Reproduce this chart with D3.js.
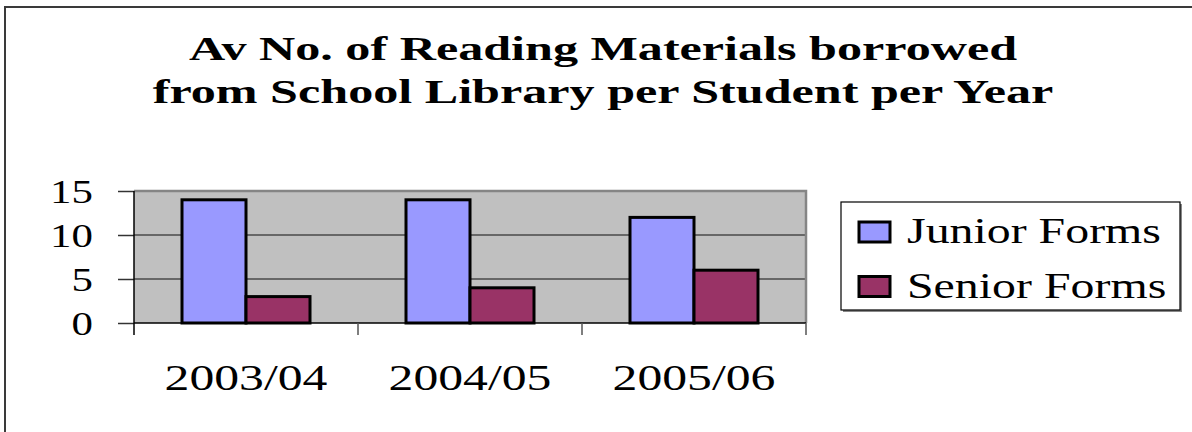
<!DOCTYPE html>
<html>
<head>
<meta charset="utf-8">
<script src="https://cdnjs.cloudflare.com/ajax/libs/d3/7.8.5/d3.min.js"></script>
<style>
  html, body { margin: 0; padding: 0; background: #fff; }
  svg { display: block; font-family: "Liberation Serif", "Times New Roman", serif; }
</style>
</head>
<body>
<div id="chart"></div>
<script>
// chart data
var categories = ['2003/04', '2004/05', '2005/06'];
var seriesNames = ['Junior Forms', 'Senior Forms'];
var juniorValues = [14, 14, 12];
var seniorValues = [3, 4, 6];
var yTicks = [0, 5, 10, 15];
var titleLines = ['Av No. of Reading Materials borrowed', 'from School Library per Student per Year'];

var seriesColors = ['#9999ff', '#993366'];

var width = 1192, height = 432;
// plot area (inside the axes)
var plot = { left: 134, right: 806, top: 191, bottom: 323 };

// the original picture is stretched sideways, so the text is too
var stretchTitle = 1.52, stretchX = 1.38, stretchY = 1.3, stretchLegend = 1.33;

var svg = d3.select('#chart').append('svg')
    .attr('width', width)
    .attr('height', height);

// outer chart border (runs off the right and bottom edge)
svg.append('rect')
    .attr('x', 5).attr('y', 7)
    .attr('width', width + 20).attr('height', height + 20)
    .attr('fill', '#fff')
    .attr('stroke', '#3a3a3a')
    .attr('stroke-width', 2);

// title
svg.append('g').selectAll('text')
    .data(titleLines)
    .enter()
    .append('text')
    .attr('transform', function (d, i) { return 'translate(603,' + (60 + i * 43) + ') scale(' + stretchTitle + ',1)'; })
    .attr('text-anchor', 'middle')
    .attr('font-weight', 'bold')
    .attr('font-size', 33)
    .attr('fill', '#000')
    .text(function (d) { return d; });

var x0 = d3.scaleBand()
    .domain(categories)
    .range([plot.left, plot.right]);

var x1 = d3.scaleBand()
    .domain(seriesNames)
    .range([0, x0.bandwidth()])
    .paddingOuter(0.75);

var y = d3.scaleLinear()
    .domain([0, 15])
    .range([plot.bottom, plot.top]);

// plot background
svg.append('rect')
    .attr('x', plot.left).attr('y', plot.top)
    .attr('width', plot.right - plot.left)
    .attr('height', plot.bottom - plot.top)
    .attr('fill', '#c0c0c0');

// gridlines
svg.append('g').selectAll('line')
    .data(yTicks.filter(function (d) { return d > 0 && d < 15; }))
    .enter()
    .append('line')
    .attr('x1', plot.left).attr('x2', plot.right)
    .attr('y1', function (d) { return y(d); })
    .attr('y2', function (d) { return y(d); })
    .attr('stroke', '#4a4a4a')
    .attr('stroke-width', 1.5);

// plot border top and right (gray)
svg.append('path')
    .attr('d', 'M' + plot.left + ',' + y(15) + 'H' + plot.right + 'V' + plot.bottom)
    .attr('fill', 'none')
    .attr('stroke', '#858585')
    .attr('stroke-width', 2.5);

// bars
var rows = categories.map(function (c, i) {
    return { cat: c, values: [juniorValues[i], seniorValues[i]] };
});

svg.append('g').selectAll('g')
    .data(rows)
    .enter()
    .append('g')
    .attr('transform', function (d) { return 'translate(' + x0(d.cat) + ',0)'; })
    .selectAll('rect')
    .data(function (d) { return d.values.map(function (v, j) { return { name: seriesNames[j], value: v, j: j }; }); })
    .enter()
    .append('rect')
    .attr('x', function (d) { return x1(d.name); })
    .attr('width', x1.bandwidth())
    .attr('y', function (d) { return y(d.value); })
    .attr('height', function (d) { return y(0) - y(d.value); })
    .attr('fill', function (d) { return seriesColors[d.j]; })
    .attr('stroke', '#000')
    .attr('stroke-width', 3);

// y axis
var yAxis = svg.append('g')
    .attr('transform', 'translate(' + plot.left + ',0)')
    .call(d3.axisLeft(y).tickValues(yTicks).tickSize(16).tickSizeOuter(0));
yAxis.select('.domain').remove();
yAxis.selectAll('.tick line').attr('stroke', '#333').attr('stroke-width', 1.5);
yAxis.selectAll('.tick text')
    .attr('x', 0).attr('dy', '0.34em')
    .attr('transform', 'translate(-41,0) scale(' + stretchY + ',1)')
    .attr('font-size', 33)
    .attr('font-family', 'Liberation Serif, Times New Roman, serif')
    .attr('fill', '#000');

// axis lines
svg.append('line')
    .attr('x1', plot.left).attr('x2', plot.left)
    .attr('y1', plot.top).attr('y2', plot.bottom + 12)
    .attr('stroke', '#000').attr('stroke-width', 1.5);
svg.append('line')
    .attr('x1', plot.left).attr('x2', plot.right)
    .attr('y1', plot.bottom).attr('y2', plot.bottom)
    .attr('stroke', '#000').attr('stroke-width', 1.5);

// category boundary ticks
var bounds = categories.map(function (c) { return x0(c); }).concat([plot.right]);
svg.append('g').selectAll('line')
    .data(bounds.slice(1))
    .enter()
    .append('line')
    .attr('x1', function (d) { return d; }).attr('x2', function (d) { return d; })
    .attr('y1', plot.bottom).attr('y2', plot.bottom + 12)
    .attr('stroke', '#555').attr('stroke-width', 1.5);

// x labels
var xAxis = svg.append('g')
    .attr('transform', 'translate(0,' + plot.bottom + ')')
    .call(d3.axisBottom(x0).tickSize(0).tickPadding(0));
xAxis.select('.domain').remove();
xAxis.selectAll('.tick text')
    .attr('y', 0).attr('dy', 0)
    .attr('transform', 'translate(0,67) scale(' + stretchX + ',1)')
    .attr('font-size', 36)
    .attr('font-family', 'Liberation Serif, Times New Roman, serif')
    .attr('fill', '#000');

// legend
var legend = svg.append('g');
legend.append('rect')
    .attr('x', 843).attr('y', 204)
    .attr('width', 339).attr('height', 108)
    .attr('fill', '#888');
legend.append('rect')
    .attr('x', 841).attr('y', 202)
    .attr('width', 339).attr('height', 108)
    .attr('fill', '#fff')
    .attr('stroke', '#000')
    .attr('stroke-width', 1.2);

var items = legend.selectAll('g.item')
    .data(seriesNames)
    .enter()
    .append('g')
    .attr('class', 'item')
    .attr('transform', function (d, i) { return 'translate(859,' + (222 + i * 54.5) + ')'; });
items.append('rect')
    .attr('width', 31).attr('height', 20)
    .attr('fill', function (d, i) { return seriesColors[i]; })
    .attr('stroke', '#000')
    .attr('stroke-width', 3);
items.append('text')
    .attr('transform', 'translate(48,21) scale(' + stretchLegend + ',1)')
    .attr('font-size', 36)
    .attr('fill', '#000')
    .text(function (d) { return d; });
</script>
</body>
</html>
